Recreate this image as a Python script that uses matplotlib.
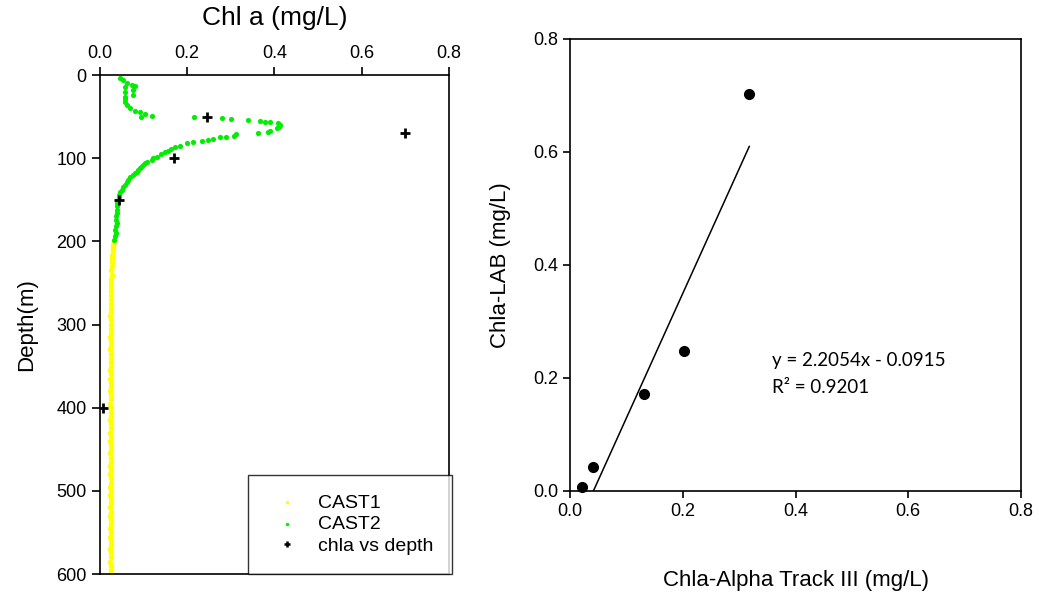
import matplotlib
matplotlib.use("Agg")
import matplotlib.pyplot as plt
import numpy as np

plt.rcParams['font.family'] = ['Liberation Sans', 'DejaVu Sans']

# CAST1 profile (yellow), deep part
cast1_depth = [200, 204, 208, 212, 216, 220, 225, 230, 235, 240, 245, 250, 255, 260, 265,
               270, 275, 280, 285, 290, 295, 300, 305, 310, 315, 320, 325, 330, 335, 340,
               345, 350, 355, 360, 365, 370, 375, 380, 385, 390, 395, 400, 405, 410, 415,
               420, 425, 430, 435, 440, 445, 450, 455, 460, 465, 470, 475, 480, 485, 490,
               495, 500, 505, 510, 515, 520, 525, 530, 535, 540, 545, 550, 555, 560, 565,
               570, 575, 580, 585, 590, 595, 599]
cast1_chl = [0.032, 0.031, 0.030, 0.029, 0.028, 0.028, 0.027, 0.027, 0.026, 0.027, 0.026, 0.026,
             0.025, 0.026, 0.025, 0.025, 0.026, 0.025, 0.025, 0.024, 0.025, 0.025, 0.026, 0.025,
             0.024, 0.025, 0.025, 0.024, 0.025, 0.026, 0.025, 0.025, 0.024, 0.025, 0.024, 0.025,
             0.025, 0.024, 0.025, 0.025, 0.024, 0.025, 0.026, 0.025, 0.024, 0.025, 0.025, 0.024,
             0.025, 0.024, 0.025, 0.025, 0.024, 0.025, 0.025, 0.024, 0.025, 0.024, 0.025, 0.025,
             0.024, 0.025, 0.024, 0.025, 0.025, 0.024, 0.025, 0.024, 0.025, 0.025, 0.024, 0.025,
             0.024, 0.025, 0.025, 0.024, 0.025, 0.025, 0.024, 0.025, 0.025, 0.026]

# CAST2 profile (green), upper 200 m
cast2_depth = [4, 6, 9, 12, 13, 14, 18, 20, 24, 26, 29, 32, 36, 40, 43, 45, 47, 49, 50,
               51, 52, 53, 54, 55, 57, 57, 58, 60, 62, 64, 67, 68,
               70, 71, 73, 74, 75, 77, 78, 79, 80, 82, 85, 87, 89, 91, 93, 95, 98, 100,
               102, 104, 106, 108, 110, 112, 114, 116, 118, 120, 123, 126, 129, 132, 135,
               138, 141, 144, 147, 150, 154, 158, 162, 166, 170, 174, 178, 182, 186, 190,
               194, 198]
cast2_chl = [0.046, 0.053, 0.061, 0.073, 0.080, 0.057, 0.075, 0.057, 0.075, 0.057, 0.058, 0.057,
             0.061, 0.069, 0.080, 0.092, 0.103, 0.119, 0.094,
             0.216, 0.279, 0.300, 0.339, 0.367, 0.378, 0.390, 0.409, 0.413, 0.411, 0.405, 0.390,
             0.386,
             0.362, 0.313, 0.307, 0.290, 0.275, 0.260, 0.248, 0.233, 0.214, 0.199, 0.183, 0.172,
             0.164, 0.157, 0.148, 0.141, 0.130, 0.122, 0.119, 0.107, 0.103, 0.099, 0.095, 0.092,
             0.088, 0.084, 0.080, 0.076, 0.069, 0.065, 0.061, 0.057, 0.053, 0.050, 0.046, 0.044,
             0.043, 0.042, 0.040, 0.039, 0.038, 0.039, 0.037, 0.036, 0.038, 0.036, 0.035, 0.036,
             0.034, 0.033]

# lab chla vs depth
lab_depth = [50, 70, 100, 150, 400]
lab_chl = [0.245, 0.700, 0.170, 0.043, 0.007]

# comparison: Alpha Track III vs LAB
alpha_chl = [0.021, 0.041, 0.132, 0.203, 0.318]
lab_vals = [0.007, 0.043, 0.172, 0.248, 0.702]
slope = 2.2054
intercept = -0.0915
r2 = 0.9201

fig = plt.figure(figsize=(10.39, 5.96), dpi=100)

# ---- left panel: depth profile ----
ax1 = fig.add_axes([0.0962, 0.0369, 0.3359, 0.8372])
ax1.scatter(cast1_chl, cast1_depth, s=16, color='#ffff00', label='CAST1', zorder=2, linewidths=0)
ax1.scatter(cast2_chl, cast2_depth, s=14, color='#00ee00', label='CAST2', zorder=3, linewidths=0)
ax1.plot(lab_chl, lab_depth, linestyle='none', marker='+', markersize=7, markeredgewidth=2,
         color='black', label='chla vs depth', zorder=4)
ax1.set_xlim(0, 0.8)
ax1.set_ylim(600, 0)
ax1.set_xticks([0.0, 0.2, 0.4, 0.6, 0.8])
ax1.set_yticks([0, 100, 200, 300, 400, 500, 600])
ax1.xaxis.tick_top()
ax1.xaxis.set_label_position('top')
ax1.tick_params(direction='out', length=6, width=1.2, labelsize=13)
ax1.set_xlabel('Chl a (mg/L)', fontsize=19, labelpad=14)
ax1.set_ylabel('Depth(m)', fontsize=16, labelpad=14)
for sp in ax1.spines.values():
    sp.set_linewidth(1.2)
leg = ax1.legend(loc='lower right', bbox_to_anchor=(1.01, 0.0), fontsize=14, frameon=True,
                 fancybox=False, edgecolor='black', borderpad=1.0, handletextpad=0.6,
                 labelspacing=0.2, borderaxespad=0, handlelength=2.0)
leg.get_frame().set_linewidth(1.0)
hs = leg.legend_handles
hs[0].set_sizes([6])
hs[1].set_sizes([6])
hs[2].set_markersize(5)
hs[2].set_markeredgewidth(1.8)

# ---- right panel: method comparison ----
ax2 = fig.add_axes([0.5486, 0.1762, 0.4341, 0.7584])
ax2.plot(alpha_chl, lab_vals, linestyle='none', marker='o', markersize=7, color='black',
         clip_on=False, zorder=3)
fit_x = np.array([min(alpha_chl), max(alpha_chl)])
ax2.plot(fit_x, slope * fit_x + intercept, color='black', linewidth=1.1)
ax2.set_xlim(0, 0.8)
ax2.set_ylim(0, 0.8)
ax2.set_xticks([0.0, 0.2, 0.4, 0.6, 0.8])
ax2.set_yticks([0.0, 0.2, 0.4, 0.6, 0.8])
ax2.xaxis.set_major_formatter(matplotlib.ticker.FormatStrFormatter('%.1f'))
ax2.yaxis.set_major_formatter(matplotlib.ticker.FormatStrFormatter('%.1f'))
ax2.tick_params(direction='out', length=5, width=1.2, labelsize=13)
ax2.set_xlabel('Chla-Alpha Track III (mg/L)', fontsize=16, labelpad=36)
ax2.set_ylabel('Chla-LAB (mg/L)', fontsize=16, labelpad=16)
for sp in ax2.spines.values():
    sp.set_linewidth(1.2)
ax2.text(0.358, 0.207, 'y = %.4fx - %.4f\nR² = %.4f' % (slope, -intercept, r2),
         fontsize=13.5, family=['Lato', 'DejaVu Sans'], linespacing=1.7, va='center', ha='left')

fig.savefig('out.png', dpi=100)
